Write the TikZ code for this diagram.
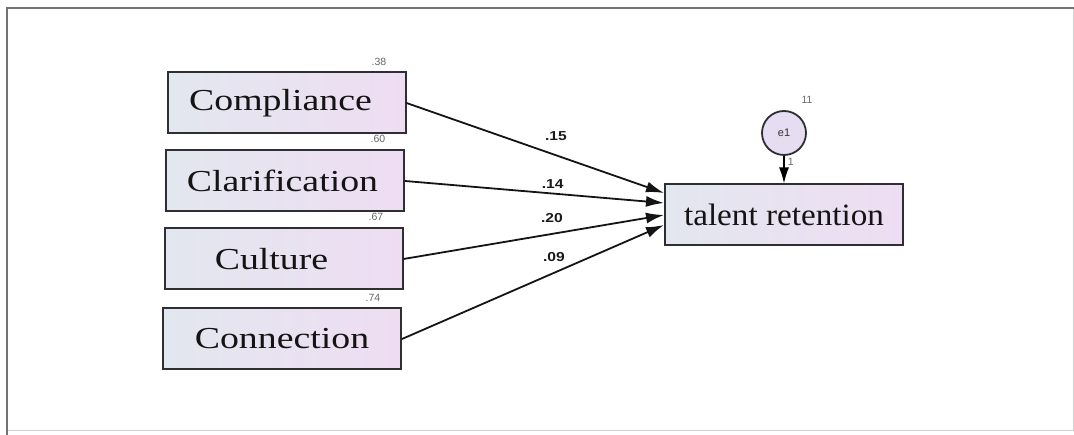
\documentclass[tikz,border=0pt]{standalone}
\usepackage{fontspec}
\setmainfont{Liberation Serif}
\newfontfamily\sansf{Liberation Sans}
\usetikzlibrary{arrows.meta,calc}
\definecolor{boxleft}{HTML}{E3E7EF}
\definecolor{boxright}{HTML}{EEDDF2}
\definecolor{errfill}{HTML}{E6DDF2}
\definecolor{edgecol}{HTML}{2E2E33}
\tikzset{
  varbox/.style={draw=edgecol, line width=2pt, minimum width=238pt, minimum height=61pt,
    left color=boxleft, right color=boxright, inner sep=0pt, text=black!92,
    font=\fontsize{30.5}{34}\selectfont},
  errcirc/.style={draw=edgecol, line width=1.8pt, circle, minimum size=44pt, inner sep=0pt,
    fill=errfill, font=\sansf\fontsize{11}{12}\selectfont, text=black!80},
  path/.style={line width=1.8pt, draw=black!92, -{Latex[length=18pt,width=11pt]}},
  plabel/.style={font=\sansf\bfseries\fontsize{13}{14}\selectfont, text=black!90, inner sep=0pt},
  smalllab/.style={font=\sansf\fontsize{10.5}{11}\selectfont, text=black!60, inner sep=0pt},
}
\newcommand{\wide}[2]{\scalebox{#1}[1]{#2}}
\begin{document}
\begin{tikzpicture}[x=1pt,y=-1pt]
\useasboundingbox (0,0) rectangle (1074,435);
% frame
\draw[black!18, line width=1pt] (7,8) rectangle (1073,431);
\draw[black!55, line width=2.2pt] (1074,8) -- (7,8) -- (7,435);

% variables
\node[varbox] (comp) at (286.5,103) {\hspace*{-12pt}\wide{1.24}{Compliance}};
\node[varbox] (clar) at (285,181) {\hspace*{-5pt}\wide{1.24}{Clarification}};
\node[varbox] (cult) at (283.5,259) {\hspace*{-24pt}\wide{1.24}{Culture}};
\node[varbox] (conn) at (282,339) {\wide{1.24}{Connection}};
\node[varbox, font=\fontsize{31}{34}\selectfont] (tr) at (784,215) {\wide{1.07}{talent retention}};
\node[errcirc] (e1) at (784,133) {e1};

% small estimates
\node[smalllab] (v38) at (379,62) {.38};
\node[smalllab] (v60) at (378,139) {.60};
\node[smalllab] (v67) at (376,217) {.67};
\node[smalllab] (v74) at (373,298) {.74};
\node[smalllab] (v11) at (807,100) {11};

% arrow targets on talent retention
\coordinate (t1) at ($(tr.west)+(0,-22)$);
\coordinate (t2) at ($(tr.west)+(0,-12)$);
\coordinate (t3) at ($(tr.west)+(0,0)$);
\coordinate (t4) at ($(tr.west)+(0,10)$);

\draw[path] (comp.east) -- node[plabel, pos=0.58, above=14pt] (p15) {\wide{1.2}{.15}} (t1);
\draw[path] (clar.east) -- node[plabel, pos=0.57, above=4pt] (p14) {\wide{1.2}{.14}} (t2);
\draw[path] (cult.east) -- node[plabel, pos=0.57, above=10pt] (p20) {\wide{1.2}{.20}} (t3);
\draw[path] (conn.east) -- node[plabel, pos=0.58, above=10pt] (p09) {\wide{1.2}{.09}} (t4);

\draw[line width=1.6pt, -{Latex[length=16pt,width=10pt]}] (e1.south) -- node[smalllab, right=3pt, pos=0.2] (one) {1} (tr.north);
\end{tikzpicture}
\end{document}
